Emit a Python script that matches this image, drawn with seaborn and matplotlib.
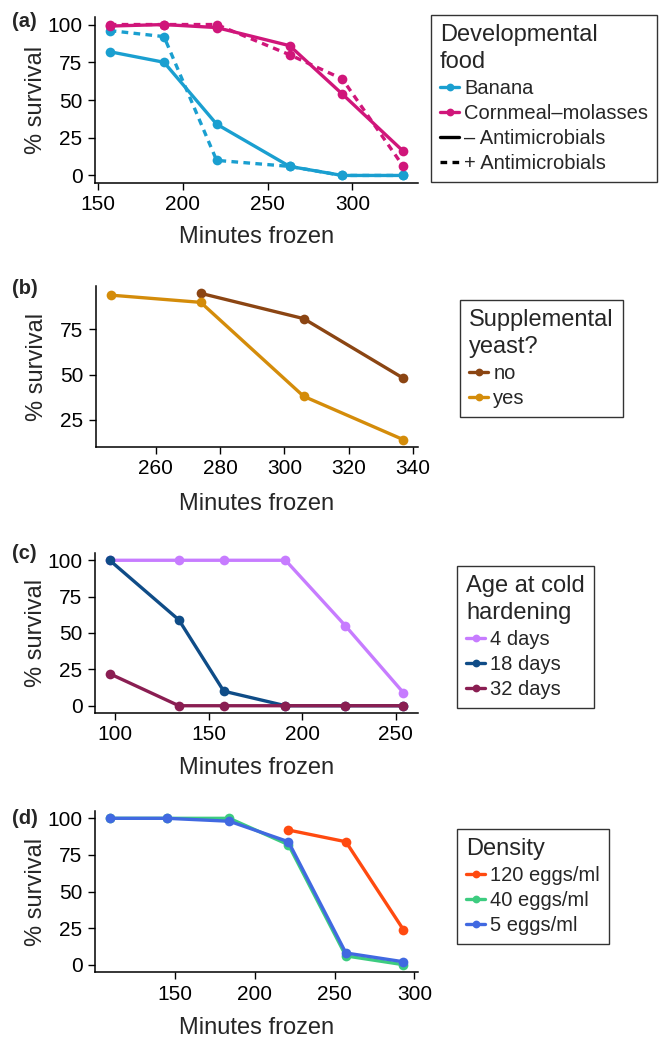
import matplotlib
matplotlib.use("Agg")
import matplotlib.pyplot as plt
import seaborn as sns
import pandas as pd
from matplotlib.lines import Line2D

# ---------------- data ----------------
# (a) developmental food x antimicrobials
a_minutes = [157, 189, 220, 263, 294, 330]
a_banana_minus = [82, 75, 34, 6, 0, 0]
a_banana_plus = [96, 92, 10, 6, 0, 0]
a_corn_minus = [99, 100, 98, 86, 54, 16]
a_corn_plus = [100, 100, 100, 80, 64, 6]
a_foods = ["Banana", "Cornmeal\u2013molasses"]
a_treat = ["\u2013 Antimicrobials", "+ Antimicrobials"]

# (b) supplemental yeast
b_no_minutes = [274, 306, 337]
b_no = [95, 81, 48]
b_yes_minutes = [246, 274, 306, 337]
b_yes = [94, 90, 38, 14]
b_groups = ["no", "yes"]

# (c) age at cold hardening
c_minutes = [97, 134, 158, 191, 223, 254]
c_4 = [100, 100, 100, 100, 55, 9]
c_18 = [100, 59, 10, 0, 0, 0]
c_32 = [22, 0, 0, 0, 0, 0]
c_groups = ["4 days", "18 days", "32 days"]

# (d) density
d_minutes = [109, 145, 184, 221, 257, 293]
d_120_minutes = [221, 257, 293]
d_120 = [92, 84, 24]
d_40 = [100, 100, 100, 82, 6, 0]
d_5 = [100, 100, 98, 84, 8, 2]
d_groups = ["120 eggs/ml", "40 eggs/ml", "5 eggs/ml"]

# ---------------- style ----------------
sns.set_theme(style="ticks")
plt.rcParams["font.family"] = ["Liberation Sans", "DejaVu Sans"]

col_a = {a_foods[0]: "#1A9FD0", a_foods[1]: "#D0167A"}
col_b = {"no": "#8B4513", "yes": "#D48C0A"}
col_c = {"4 days": "#C77CFF", "18 days": "#0F4C87", "32 days": "#8A1E52"}
col_d = {"120 eggs/ml": "#FF4A10", "40 eggs/ml": "#3DCC80", "5 eggs/ml": "#4169E1"}

LW = 2.4
MS = 7
W, H = 661, 1040

fig = plt.figure(figsize=(W / 100, H / 100), dpi=100)


def add_ax(l, r, t, b):
    return fig.add_axes([l / W, 1 - b / H, (r - l) / W, (b - t) / H])


def style_ax(ax, xticks, yticks, h_px, gap):
    sns.despine(ax=ax)
    ax.set_xticks(xticks)
    ax.set_yticks(yticks)
    ax.tick_params(axis="both", labelsize=15, length=5, width=1, pad=4,
                   color="black", labelcolor="black", direction="out")
    for s in ["left", "bottom"]:
        ax.spines[s].set_linewidth(1.1)
        ax.spines[s].set_color("black")
    ax.set_xlabel("Minutes frozen", fontsize=17)
    ax.set_ylabel("% survival", fontsize=17)
    ax.xaxis.set_label_coords(0.5, -gap / h_px)
    ax.yaxis.set_label_coords((47 - 95) / 323, 0.5)
    ax.grid(False)


def legend(ax, handles, labels, title, x, y):
    leg = fig.legend(handles, labels, title=title, loc="upper left",
                     bbox_to_anchor=(x / W, 1 - y / H), bbox_transform=fig.transFigure,
                     fontsize=14.5, title_fontsize=17, frameon=True, fancybox=False,
                     edgecolor="#333333", framealpha=1, handlelength=0.95,
                     handletextpad=0.25, labelspacing=0.3, borderpad=0.45,
                     borderaxespad=0, alignment="left")
    leg.get_frame().set_linewidth(1.0)
    leg.get_title().set_linespacing(1.3)
    return leg


def hline(c, ls="-", marker="o"):
    return Line2D([], [], color=c, lw=LW, ls=ls, marker=marker, ms=MS * 0.8, mew=0)


# ---------------- panel a ----------------
dfa = pd.concat([
    pd.DataFrame({"minutes": a_minutes, "survival": a_banana_minus, "food": a_foods[0], "anti": a_treat[0]}),
    pd.DataFrame({"minutes": a_minutes, "survival": a_banana_plus, "food": a_foods[0], "anti": a_treat[1]}),
    pd.DataFrame({"minutes": a_minutes, "survival": a_corn_minus, "food": a_foods[1], "anti": a_treat[0]}),
    pd.DataFrame({"minutes": a_minutes, "survival": a_corn_plus, "food": a_foods[1], "anti": a_treat[1]}),
], ignore_index=True)
ax = add_ax(95, 418, 17, 183)
sns.lineplot(data=dfa, x="minutes", y="survival", hue="food", style="anti",
             palette=col_a, dashes={a_treat[0]: "", a_treat[1]: (2, 1.6)},
             markers={a_treat[0]: "o", a_treat[1]: "o"}, markersize=MS, markeredgewidth=0,
             linewidth=LW, estimator=None, sort=False, legend=False, ax=ax)
style_ax(ax, [150, 200, 250, 300], [0, 25, 50, 75, 100], 166, 43)
legend(ax,
       [hline(col_a[a_foods[0]]), hline(col_a[a_foods[1]]),
        Line2D([], [], color="black", lw=LW, ls="-"),
        Line2D([], [], color="black", lw=LW, ls=(0, (2, 1.6)))],
       a_foods + a_treat, "Developmental\nfood", 431, 15)

# ---------------- panel b ----------------
dfb = pd.concat([
    pd.DataFrame({"minutes": b_no_minutes, "survival": b_no, "yeast": "no"}),
    pd.DataFrame({"minutes": b_yes_minutes, "survival": b_yes, "yeast": "yes"}),
], ignore_index=True)
ax = add_ax(96, 418, 286, 447)
sns.lineplot(data=dfb, x="minutes", y="survival", hue="yeast", palette=col_b,
             marker="o", markersize=MS, markeredgewidth=0, linewidth=LW,
             estimator=None, sort=False, legend=False, ax=ax)
style_ax(ax, [260, 280, 300, 320, 340], [25, 50, 75], 161, 46)
legend(ax, [hline(col_b[g]) for g in b_groups], b_groups,
       "Supplemental\nyeast?", 460, 300)

# ---------------- panel c ----------------
dfc = pd.concat([
    pd.DataFrame({"minutes": c_minutes, "survival": v, "age": g})
    for g, v in zip(c_groups, [c_4, c_18, c_32])
], ignore_index=True)
ax = add_ax(95, 418, 553, 713)
sns.lineplot(data=dfc, x="minutes", y="survival", hue="age", palette=col_c,
             hue_order=c_groups, marker="o", markersize=MS, markeredgewidth=0,
             linewidth=LW, estimator=None, sort=False, legend=False, ax=ax)
style_ax(ax, [100, 150, 200, 250], [0, 25, 50, 75, 100], 160, 44)
legend(ax, [hline(col_c[g]) for g in c_groups], c_groups,
       "Age at cold\nhardening", 457, 566)

# ---------------- panel d ----------------
dfd = pd.concat([
    pd.DataFrame({"minutes": d_120_minutes, "survival": d_120, "density": d_groups[0]}),
    pd.DataFrame({"minutes": d_minutes, "survival": d_40, "density": d_groups[1]}),
    pd.DataFrame({"minutes": d_minutes, "survival": d_5, "density": d_groups[2]}),
], ignore_index=True)
ax = add_ax(95, 418, 811, 972)
sns.lineplot(data=dfd, x="minutes", y="survival", hue="density", palette=col_d,
             hue_order=d_groups, marker="o", markersize=MS, markeredgewidth=0,
             linewidth=LW, estimator=None, sort=False, legend=False, ax=ax)
style_ax(ax, [150, 200, 250, 300], [0, 25, 50, 75, 100], 161, 45)
legend(ax, [hline(col_d[g]) for g in d_groups], d_groups, "Density", 457, 829)

# ---------------- panel letters ----------------
for lab, y in [("(a)", 12), ("(b)", 279), ("(c)", 544), ("(d)", 809)]:
    fig.text(12 / W, 1 - y / H, lab, fontsize=14.5, fontweight="bold", va="top", ha="left")

fig.savefig("out.png", dpi=100)
